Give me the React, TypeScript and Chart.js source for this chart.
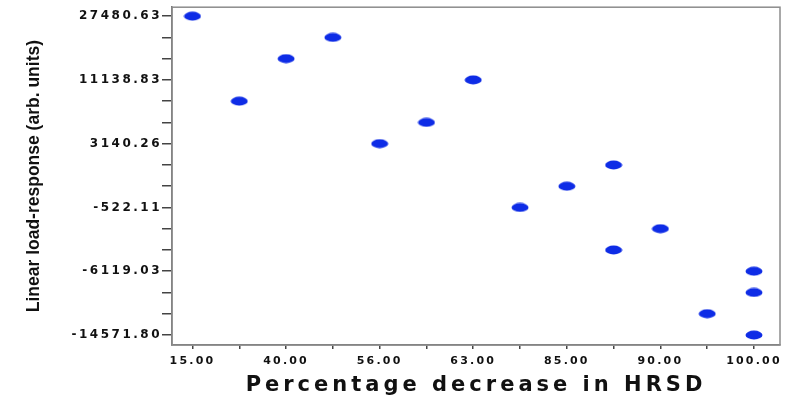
import React, { useEffect, useRef } from 'react';
import { Chart, registerables } from 'chart.js';

Chart.register(...registerables);

// Ordinal positions along each axis, labelled every other / every third step
const xTickLabels = ['15.00', '', '40.00', '', '56.00', '', '63.00', '', '85.00', '', '90.00', '', '100.00'];
const yTickLabels = [
  '27480.63', '', '', '11138.83', '', '', '3140.26', '', '',
  '-522.11', '', '', '-6119.03', '', '', '-14571.80',
];

// Each subject: rank on the x axis and rank on the y axis (0 = top)
const xRank = [0, 1, 2, 3, 4, 5, 6, 7, 8, 9, 9, 10, 11, 12, 12, 12];
const yRank = [0, 4, 2, 1, 6, 5, 3, 9, 8, 7, 11, 10, 14, 12, 13, 15];

const xTitle = 'Percentage decrease in HRSD';
const yTitle = 'Linear load-response (arb. units)';

function makeDot(): HTMLCanvasElement {
  const c = document.createElement('canvas');
  c.width = 18;
  c.height = 10;
  const g = c.getContext('2d')!;
  g.fillStyle = '#0e2ce6';
  g.beginPath();
  g.ellipse(9, 5, 8.5, 4.4, 0, 0, Math.PI * 2);
  g.fill();
  return c;
}

// Wraps label / title drawing so each can use its own letter spacing
const spacingPlugin = {
  id: 'spacing',
  beforeDraw(chart: any) {
    const ctx = chart.ctx;
    const conf: Record<string, { labels: string; title: string }> = {
      x: { labels: '2.2px', title: '4px' },
      y: { labels: '2.5px', title: '0px' },
    };
    for (const id of Object.keys(chart.scales)) {
      const s = chart.scales[id];
      if (s._spaced || !conf[id]) continue;
      s._spaced = true;
      const wrap = (name: string, sp: string) => {
        const orig = s[name];
        s[name] = function (...args: any[]) {
          ctx.save();
          ctx.letterSpacing = sp;
          orig.apply(this, args);
          ctx.restore();
        };
      };
      wrap('drawLabels', conf[id].labels);
      wrap('drawTitle', conf[id].title);
    }
  },
};

// Light frame around the plotting area
const framePlugin = {
  id: 'frame',
  beforeDatasetsDraw(chart: any) {
    const { ctx, chartArea: a } = chart;
    ctx.save();
    ctx.strokeStyle = '#8c8c8c';
    ctx.lineWidth = 1.5;
    ctx.strokeRect(a.left, a.top, a.right - a.left, a.bottom - a.top);
    ctx.restore();
  },
};

export default function App() {
  const ref = useRef<HTMLCanvasElement>(null);

  useEffect(() => {
    document.body.style.margin = '0';
    const dot = makeDot();
    const points = xRank.map((x, i) => ({ x, y: yRank[i] }));
    const xTicks = xTickLabels.map((_, i) => ({ value: i }));
    const yTicks = yTickLabels.map((_, i) => ({ value: i }));

    const chart = new Chart(ref.current!, {
      type: 'scatter',
      data: {
        datasets: [
          {
            data: points,
            pointStyle: dot as any,
            pointRadius: 5,
            pointHoverRadius: 5,
          },
        ],
      },
      options: {
        animation: false,
        responsive: false,
        events: [],
        layout: { padding: { left: 0, right: 11, top: 5, bottom: 0 } },
        plugins: { legend: { display: false }, tooltip: { enabled: false } },
        scales: {
          x: {
            type: 'linear',
            min: -0.438,
            max: 12.556,
            afterBuildTicks: (axis: any) => {
              axis.ticks = xTicks.map((t) => ({ ...t }));
            },
            afterFit: (axis: any) => {
              axis.height = 54;
            },
            grid: { drawOnChartArea: false, drawTicks: true, tickLength: 4, color: '#444', lineWidth: 1.5 },
            border: { display: true, color: '#6e6e6e', width: 1.5 },
            ticks: {
              autoSkip: false,
              maxRotation: 0,
              padding: 6,
              color: '#111',
              font: { family: 'DejaVu Sans', weight: 'bold', size: 11 },
              callback: (v: any) => xTickLabels[Math.round(Number(v))] ?? '',
            },
            title: {
              display: true,
              text: xTitle,
              color: '#111',
              font: { family: 'DejaVu Sans', weight: 'bold', size: 21 },
              padding: { top: 0, bottom: 1 },
            },
          },
          y: {
            type: 'linear',
            reverse: true,
            min: -0.42,
            max: 15.47,
            afterBuildTicks: (axis: any) => {
              axis.ticks = yTicks.map((t) => ({ ...t }));
            },
            afterFit: (axis: any) => {
              axis.width = 172;
            },
            grid: { drawOnChartArea: false, drawTicks: true, tickLength: 10, color: '#444', lineWidth: 1.5 },
            border: { display: true, color: '#6e6e6e', width: 1.5 },
            ticks: {
              autoSkip: false,
              padding: 0,
              color: '#111',
              font: { family: 'DejaVu Sans', weight: 'bold', size: 12 },
              callback: (v: any) => yTickLabels[Math.round(Number(v))] ?? '',
            },
            title: {
              display: true,
              text: yTitle,
              color: '#111',
              font: { family: 'Liberation Sans', weight: 'bold', size: 17.5 },
              padding: { top: 24, bottom: 0 },
            },
          },
        },
      },
      plugins: [spacingPlugin, framePlugin],
    });
    return () => chart.destroy();
  }, []);

  return (
    <div style={{ width: 791, height: 399 }}>
      <canvas ref={ref} width={791} height={399} style={{ display: 'block' }} />
    </div>
  );
}
